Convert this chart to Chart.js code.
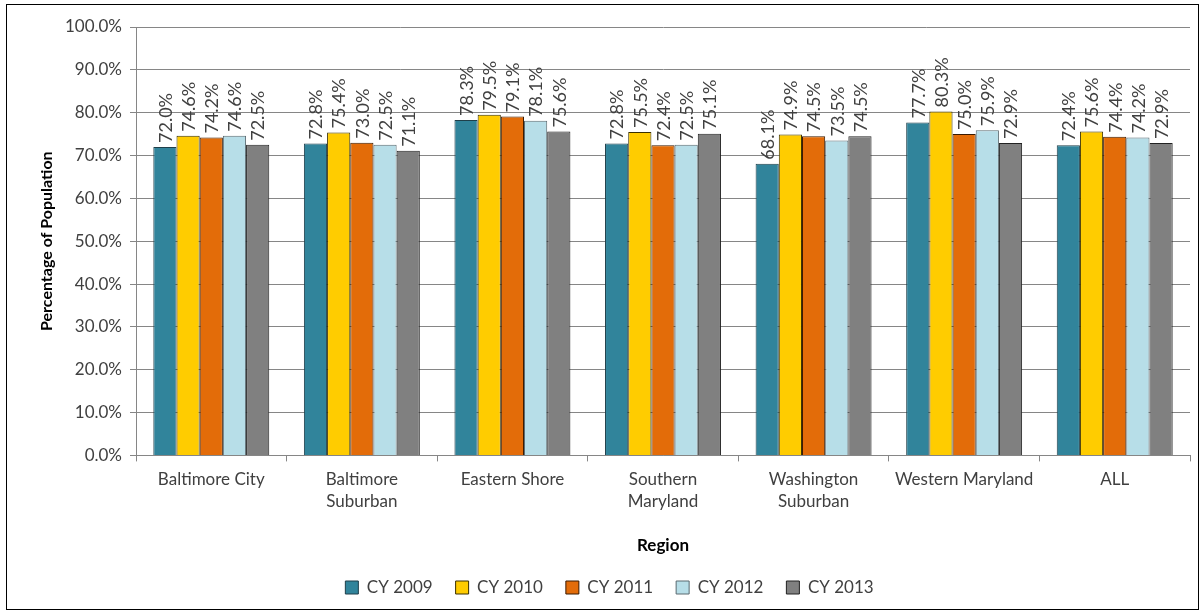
<!DOCTYPE html>
<html>
<head>
<meta charset="utf-8">
<script src="https://cdn.jsdelivr.net/npm/chart.js@4.4.1/dist/chart.umd.min.js"></script>
<style>
  html, body { margin: 0; padding: 0; background: #fff; }
  #wrap { position: absolute; left: 6px; top: 4px; width: 1193px; height: 606px; border: 1px solid #000; box-sizing: border-box; }
  canvas { display: block; }
</style>
</head>
<body>
<div id="wrap"><canvas id="c" width="1191" height="604"></canvas></div>
<script>
const categories = ["Baltimore City", ["Baltimore", "Suburban"], "Eastern Shore", ["Southern", "Maryland"], ["Washington", "Suburban"], "Western Maryland", "ALL"];
const seriesNames = ["CY 2009", "CY 2010", "CY 2011", "CY 2012", "CY 2013"];
const cy2009 = [72.0, 72.8, 78.3, 72.8, 68.1, 77.7, 72.4];
const cy2010 = [74.6, 75.4, 79.5, 75.5, 74.9, 80.3, 75.6];
const cy2011 = [74.2, 73.0, 79.1, 72.4, 74.5, 75.0, 74.4];
const cy2012 = [74.6, 72.5, 78.1, 72.5, 73.5, 75.9, 74.2];
const cy2013 = [72.5, 71.1, 75.6, 75.1, 74.5, 72.9, 72.9];
const yTicks = [0, 10, 20, 30, 40, 50, 60, 70, 80, 90, 100];

const fills = ["#31849B", "#FFCC00", "#E36C09", "#B7DEE8", "#808080"];
const borders = ["#1f3f4a", "#3a3000", "#3a1a00", "#5a6a70", "#222222"];
const seriesData = [cy2009, cy2010, cy2011, cy2012, cy2013];

const FONT = "Lato, 'Open Sans', sans-serif";
const TXT = "#404040";

const labelPlugin = {
  id: "barLabels",
  afterDatasetsDraw(chart) {
    const ctx = chart.ctx;
    ctx.save();
    ctx.font = "18px " + FONT;
    ctx.fillStyle = TXT;
    ctx.textAlign = "left";
    ctx.textBaseline = "middle";
    chart.data.datasets.forEach((ds, i) => {
      const meta = chart.getDatasetMeta(i);
      meta.data.forEach((bar, j) => {
        const v = ds.data[j];
        ctx.save();
        ctx.translate(bar.x, bar.y - 4);
        ctx.rotate(-Math.PI / 2);
        ctx.fillText(v.toFixed(1) + "%", 0, 1);
        ctx.restore();
      });
    });
    ctx.restore();
  }
};

new Chart(document.getElementById("c"), {
  type: "bar",
  data: {
    labels: categories,
    datasets: seriesData.map((d, i) => ({
      label: seriesNames[i],
      data: d,
      backgroundColor: fills[i],
      borderColor: borders[i],
      borderWidth: 1,
      borderSkipped: "bottom",
      categoryPercentage: 0.77,
      barPercentage: 1.0
    }))
  },
  options: {
    responsive: false,
    animation: false,
    events: [],
    layout: { padding: { top: 22, right: 8, left: 22, bottom: 3 } },
    plugins: {
      legend: {
        position: "bottom",
        labels: {
          font: { family: FONT, size: 17 },
          color: TXT,
          boxWidth: 13,
          boxHeight: 13,
          padding: 23,
          useBorderRadius: false
        }
      },
      tooltip: { enabled: false },
      title: { display: false }
    },
    scales: {
      x: {
        grid: { display: true, drawOnChartArea: false, offset: true, color: "#868686", tickLength: 6 },
        border: { color: "#868686" },
        ticks: { font: { family: FONT, size: 17, lineHeight: 1.3 }, color: TXT, maxRotation: 0, autoSkip: false, padding: 7 },
        title: { display: true, text: "Region", font: { family: FONT, size: 17, weight: "bold" }, color: "#000", padding: { top: 16, bottom: 0 } }
      },
      y: {
        min: 0, max: 100,
        afterBuildTicks(scale) { scale.ticks = yTicks.map(v => ({ value: v })); },
        afterFit(scale) { scale.width = 107; },
        grid: { color: "#868686", tickLength: 6 },
        border: { color: "#868686" },
        ticks: {
          font: { family: FONT, size: 17 }, color: TXT, padding: 8,
          callback: v => v.toFixed(1) + "%"
        },
        title: { display: true, text: "Percentage of Population", font: { family: FONT, size: 16, weight: "bold" }, color: "#000", padding: { top: 8, bottom: 8 } }
      }
    }
  },
  plugins: [labelPlugin]
});
</script>
</body>
</html>
